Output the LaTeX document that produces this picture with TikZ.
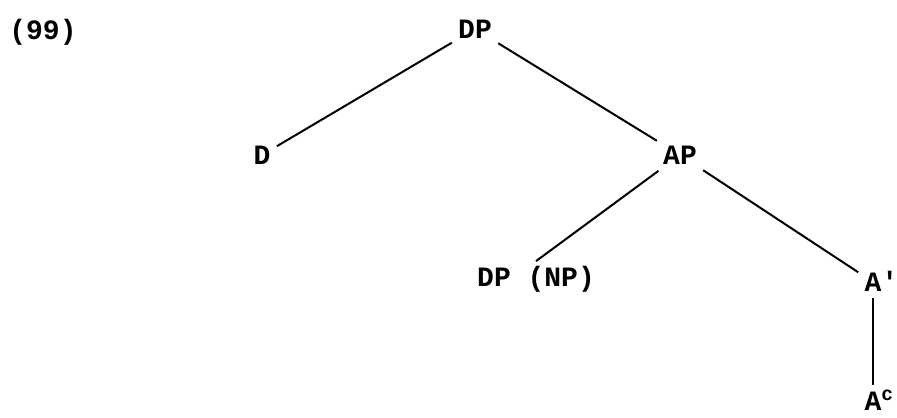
\documentclass[tikz,border=0pt]{standalone}
\usepackage{fontspec}
\usepackage{tikz}
\newfontfamily\treefont{Liberation Mono}

\begin{document}
\begin{tikzpicture}[x=0.5pt, y=-0.5pt,
    cat/.style={font=\treefont\bfseries\fontsize{14}{14}\selectfont, inner sep=3pt, text height=9.5pt, text depth=0pt},
    branch/.style={line width=1pt}]
  \useasboundingbox (0,0) rectangle (897,417);
  \node[cat] (num) at (43, 30) {(99)};
  \node[cat] (dp) at (475, 29) {DP};
  \node[cat] (d) at (262, 155) {D};
  \node[cat] (ap) at (680, 155) {AP};
  \node[cat] (dpnp) at (536, 277) {DP (NP)};
  \node[cat] (abar) at (873, 282) {A\rlap{'}};
  \node[cat] (ac) at (873, 401) {A\rlap{\textsuperscript{c}}};
  \draw[branch] (dp) -- (d);
  \draw[branch] (dp) -- (ap);
  \draw[branch] (ap) -- (dpnp.north);
  \draw[branch] (ap) -- (abar);
  \draw[branch] (abar) -- (ac);
\end{tikzpicture}
\end{document}
